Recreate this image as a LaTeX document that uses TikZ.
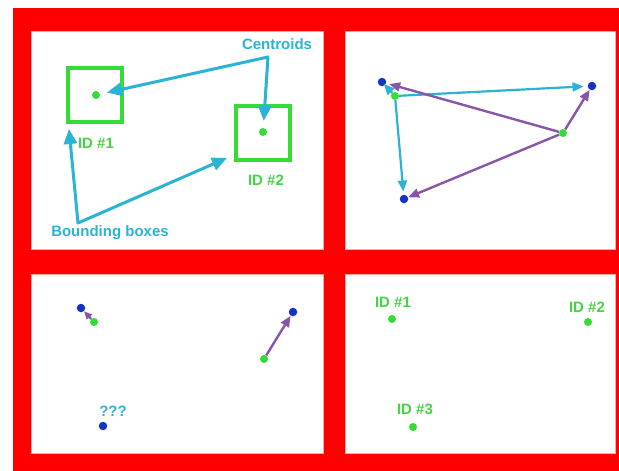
\documentclass[tikz,border=0pt]{standalone}
\usepackage{fontspec}
\setmainfont{Liberation Sans}
\usetikzlibrary{arrows.meta}
\definecolor{bgred}{HTML}{FF0000}
\definecolor{bgreen}{HTML}{33DD33}
\definecolor{tgreen}{HTML}{44D444}
\definecolor{acyan}{HTML}{2BB3D6}
\definecolor{dblue}{HTML}{1433C4}
\definecolor{apurple}{HTML}{8856A8}
\tikzset{
 panel/.style={fill=white, draw=red!35, line width=0.6pt},
 gdot/.style={circle, fill=bgreen, inner sep=0pt, minimum size=8pt},
 bdot/.style={circle, fill=dblue, inner sep=0pt, minimum size=8.5pt},
 bbox/.style={draw=bgreen, line width=4pt, minimum width=54pt, minimum height=54pt, inner sep=0pt},
 lbl/.style={font=\fontsize{15}{17}\selectfont\bfseries, inner sep=0pt},
 glbl/.style={lbl, text=tgreen},
 clbl/.style={lbl, text=acyan},
 bigtip/.tip={Triangle[length=15pt,width=13pt]},
 carrow/.style={draw=acyan, line width=3pt, line join=round, bigtip-bigtip},
 carrowthin/.style={draw=acyan, line width=2.2pt, -{Triangle[length=11pt,width=9pt]}},
 parrow/.style={draw=apurple, line width=2.4pt, -{Triangle[length=11pt,width=9pt]}},
}
\begin{document}
\begin{tikzpicture}[x=1pt,y=-1pt]
\useasboundingbox (0,0) rectangle (619,471);
\fill[bgred] (13,8) rectangle (619,471);
% panels
\draw[panel] (31,31) rectangle (323,249);
\draw[panel] (345,31) rectangle (615,249);
\draw[panel] (31,274) rectangle (323,453);
\draw[panel] (345,274) rectangle (615,453);

% ---- top left panel ----
\node[bbox] (box1) at (95,95) {};
\node[bbox] (box2) at (263,132.5) {};
\node[gdot] (c1) at (96,95) {};
\node[gdot] (c2) at (263,132) {};
\node[glbl] (id1) at (96,143) {ID \#1};
\node[glbl] (id2) at (266,180) {ID \#2};
\node[clbl] (cen) at (277,44) {Centroids};
\node[clbl] (bb) at (110,233) {Bounding boxes};
\coordinate (cv) at (268,57);
\coordinate (bv) at (78,223);
\coordinate (t1) at (69,129);
\coordinate (t2) at (227,158);
\draw[carrow, shorten >=7pt, shorten <=7pt] (c1) -- (cv) -- (c2);
\draw[carrow] (t1) -- (bv) -- (t2);

% ---- top right panel ----
\node[bdot] (tb1) at (382,82) {};
\node[bdot] (tb2) at (592,86) {};
\node[bdot] (tb3) at (404,199) {};
\node[gdot] (tg1) at (395,96) {};
\node[gdot] (tg2) at (563,133) {};
\draw[carrowthin, shorten >=-2pt] (tg1) -- (tb1);
\draw[carrowthin, shorten >=4pt] (tg1) -- (tb2);
\draw[carrowthin, shorten >=3pt] (tg1) -- (tb3);
\draw[parrow, shorten >=3pt] (tg2) -- (tb1);
\draw[parrow] (tg2) -- (tb2);
\draw[parrow] (tg2) -- (tb3);

% ---- bottom left panel ----
\node[bdot] (lb1) at (81,308) {};
\node[gdot] (lg1) at (94,322) {};
\node[bdot] (lb2) at (293,312) {};
\node[gdot] (lg2) at (264,359) {};
\node[bdot] (lb3) at (103,426) {};
\node[clbl] (q) at (113,411) {???};
\draw[parrow, -{Triangle[length=8pt,width=7pt]}] (lg1) -- (lb1);
\draw[parrow] (lg2) -- (lb2);

% ---- bottom right panel ----
\node[gdot] (rg1) at (392,319) {};
\node[gdot] (rg2) at (588,322) {};
\node[gdot] (rg3) at (413,427) {};
\node[glbl] (rid1) at (393,302) {ID \#1};
\node[glbl] (rid2) at (587,307) {ID \#2};
\node[glbl] (rid3) at (415,409) {ID \#3};
\end{tikzpicture}
\end{document}
